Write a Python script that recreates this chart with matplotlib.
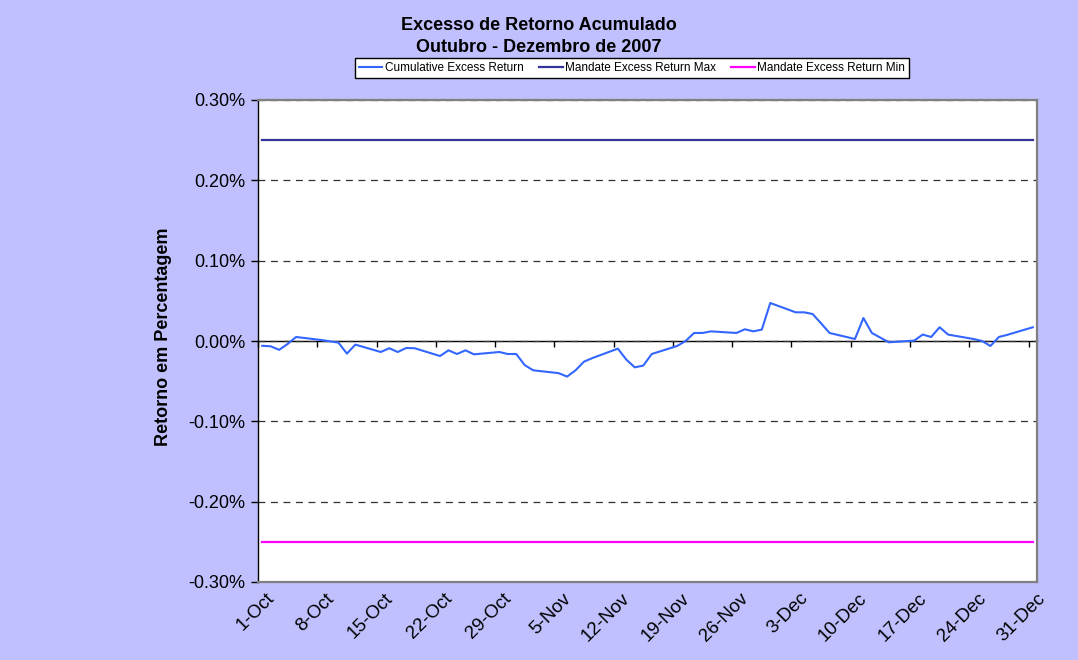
import pandas as pd
import matplotlib
matplotlib.use('Agg')
import matplotlib.pyplot as plt
from matplotlib.transforms import ScaledTranslation

plt.rcParams['font.family'] = ['Liberation Sans', 'DejaVu Sans']

# cumulative excess return, in percent
dates = ['2007-10-01', '2007-10-02', '2007-10-03', '2007-10-04', '2007-10-05',
         '2007-10-08', '2007-10-09', '2007-10-10', '2007-10-11', '2007-10-12',
         '2007-10-15', '2007-10-16', '2007-10-17', '2007-10-18', '2007-10-19',
         '2007-10-22', '2007-10-23', '2007-10-24', '2007-10-25', '2007-10-26',
         '2007-10-29', '2007-10-30', '2007-10-31', '2007-11-01', '2007-11-02',
         '2007-11-05', '2007-11-06', '2007-11-07', '2007-11-08', '2007-11-09',
         '2007-11-12', '2007-11-13', '2007-11-14', '2007-11-15', '2007-11-16',
         '2007-11-19', '2007-11-20', '2007-11-21', '2007-11-22', '2007-11-23',
         '2007-11-26', '2007-11-27', '2007-11-28', '2007-11-29', '2007-11-30',
         '2007-12-03', '2007-12-04', '2007-12-05', '2007-12-06', '2007-12-07',
         '2007-12-10', '2007-12-11', '2007-12-12', '2007-12-13', '2007-12-14',
         '2007-12-17', '2007-12-18', '2007-12-19', '2007-12-20', '2007-12-21',
         '2007-12-24', '2007-12-25', '2007-12-26', '2007-12-27', '2007-12-28',
         '2007-12-31']
excess = [-0.0060, -0.0066, -0.0110, -0.0037, 0.0050,
          0.0012, -0.0004, -0.0020, -0.0157, -0.0045,
          -0.0137, -0.0090, -0.0137, -0.0087, -0.0090,
          -0.0187, -0.0116, -0.0162, -0.0116, -0.0166,
          -0.0137, -0.0162, -0.0162, -0.0300, -0.0365,
          -0.0400, -0.0443, -0.0365, -0.0257, -0.0212,
          -0.0095, -0.0232, -0.0328, -0.0306, -0.0162,
          -0.0062, 0.0000, 0.0100, 0.0100, 0.0120,
          0.0100, 0.0146, 0.0120, 0.0142, 0.0473,
          0.0357, 0.0357, 0.0336, 0.0220, 0.0100,
          0.0025, 0.0286, 0.0100, 0.0042, -0.0016,
          0.0005, 0.0080, 0.0050, 0.0171, 0.0080,
          0.0025, 0.0000, -0.0062, 0.0050, 0.0077,
          0.0171]
mandate_max = 0.25
mandate_min = -0.25

y_ticks = [-0.30, -0.20, -0.10, 0.00, 0.10, 0.20, 0.30]
tick_dates = pd.date_range('2007-10-01', '2007-12-31', freq='7D')
tick_labels = [f"{d.day}-{d.strftime('%b')}" for d in tick_dates]

# excel puts each day in the middle of its slot
x = pd.to_datetime(dates) + pd.Timedelta(hours=12)

fig = plt.figure(figsize=(10.78, 6.6), dpi=100, facecolor='#C0C0FF')
ax = fig.add_axes([258 / 1078, 78 / 660, 779 / 1078, 482 / 660])
ax.set_facecolor('white')

ax.plot(x, excess, color='#3366FF', lw=1.5, label='Cumulative Excess Return', zorder=4)
ax.plot(x, [mandate_max] * len(x), color='#333399', lw=1.6, label='Mandate Excess Return Max', zorder=3)
ax.plot(x, [mandate_min] * len(x), color='#FF00FF', lw=1.6, label='Mandate Excess Return Min', zorder=3)

ax.set_xlim(pd.Timestamp('2007-10-01'), pd.Timestamp('2008-01-01'))
ax.set_ylim(-0.30, 0.30)
ax.set_yticks(y_ticks)
ax.set_yticklabels([f"{v:.2f}%" for v in y_ticks])
ax.yaxis.grid(True, color='#303030', lw=0.9, linestyle=(0, (5.5, 4.5)))
ax.set_axisbelow(True)
ax.tick_params(axis='y', direction='out', length=5, width=1, labelsize=13, pad=4)

ax.set_xticks(tick_dates + pd.Timedelta(hours=12))
ax.set_xticklabels(tick_labels, rotation=45, rotation_mode='anchor', ha='right', va='center')
ax.tick_params(axis='x', length=0, labelsize=13.5, pad=10)
shift = ScaledTranslation(7 / 72, 0, fig.dpi_scale_trans)
for lab in ax.get_xticklabels():
    lab.set_transform(lab.get_transform() + shift)

for s in ['top', 'right', 'bottom']:
    ax.spines[s].set_color('#808080')
    ax.spines[s].set_linewidth(1.6)
ax.spines['left'].set_color('black')
ax.spines['left'].set_linewidth(1)

# zero line carrying the weekly tick marks
zero = ax.secondary_xaxis(0.5)
zero.set_xticks(tick_dates)
zero.tick_params(direction='in', length=4, width=1, labeltop=False, labelbottom=False)
zero.spines['top'].set_color('black')
zero.spines['top'].set_linewidth(1)

fig.text(0.5, 1 - 26 / 660, 'Excesso de Retorno Acumulado', ha='center', va='center',
         fontsize=13, fontweight='bold')
fig.text(0.5, 1 - 47 / 660, 'Outubro - Dezembro de 2007', ha='center', va='center',
         fontsize=13, fontweight='bold')
fig.text(164 / 1078, 1 - 337 / 660, 'Retorno em Percentagem', rotation=90,
         ha='center', va='center', fontsize=13, fontweight='bold')

leg = fig.legend(loc='center', bbox_to_anchor=(632 / 1078, 1 - 68 / 660), ncol=3,
                 fontsize=8.5, frameon=True, fancybox=False, edgecolor='black',
                 framealpha=1, handlelength=2, columnspacing=1.3, borderpad=0.35,
                 handletextpad=0.2)
leg.get_frame().set_linewidth(1)

fig.savefig('out.png', dpi=100, facecolor=fig.get_facecolor())
